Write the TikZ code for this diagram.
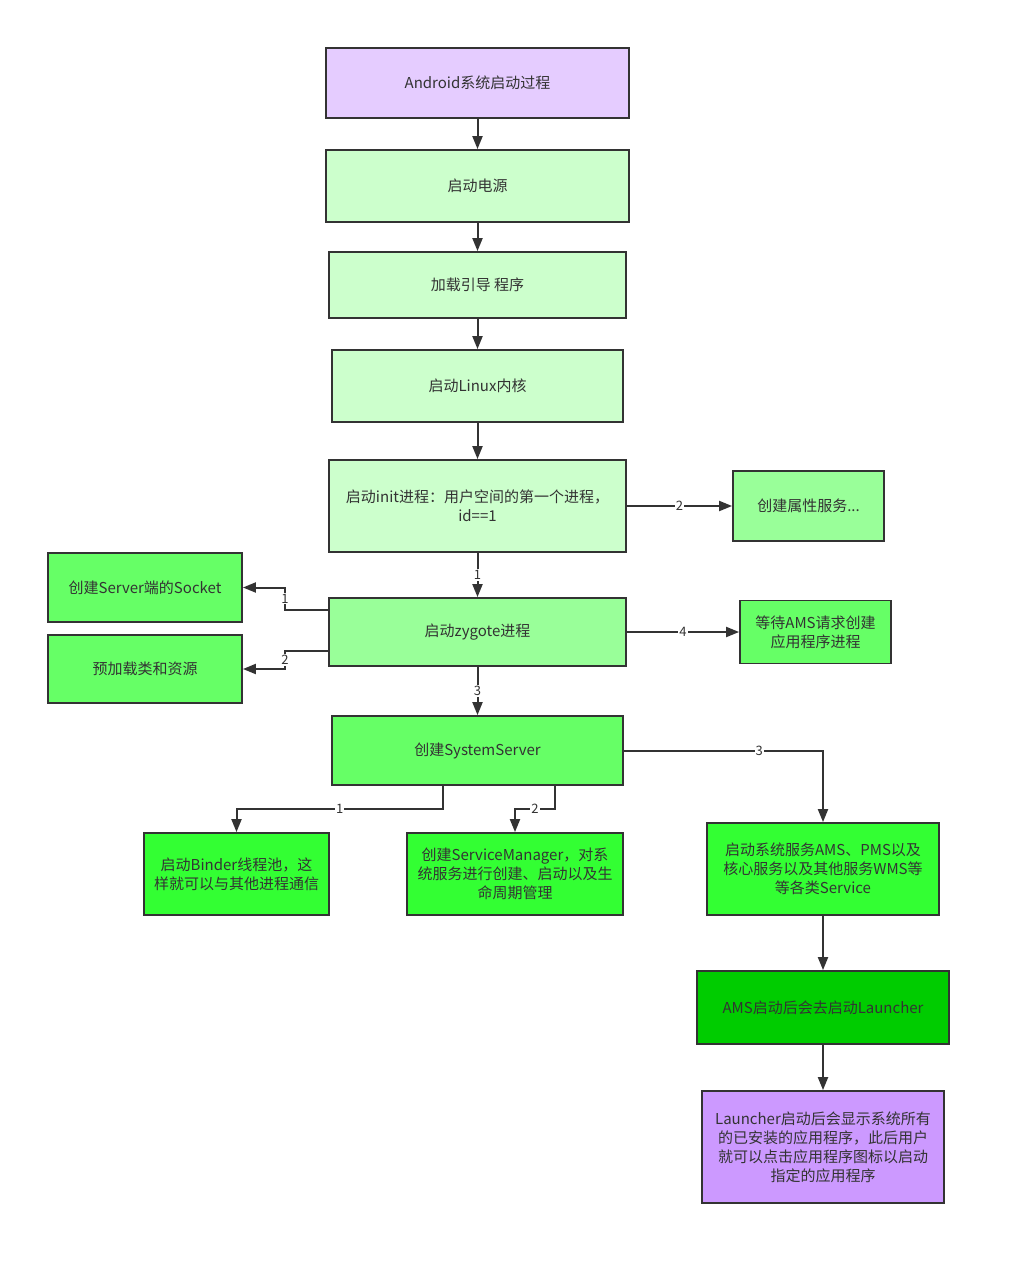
\documentclass[tikz,border=0pt]{standalone}
\usepackage{fontspec}
\setmainfont{Noto Sans CJK SC}
\usetikzlibrary{arrows.meta}
\definecolor{ink}{HTML}{333333}
\definecolor{lilac}{HTML}{E5CCFF}
\definecolor{paleg}{HTML}{CCFFCC}
\definecolor{lightg}{HTML}{99FF99}
\definecolor{midg}{HTML}{66FF66}
\definecolor{brightg}{HTML}{33FF33}
\definecolor{darkg}{HTML}{00CC00}
\definecolor{violet}{HTML}{CC99FF}
\begin{document}
\begin{tikzpicture}[x=1pt,y=-1pt,
	box/.style n args={3}{draw=ink,line width=1.8pt,text=ink,align=center,inner sep=0pt,font=\fontsize{15}{19}\selectfont,minimum width=#1,minimum height=#2,fill=#3},
	link/.style={draw=ink,line width=2pt,-{Triangle[length=13pt,width=10pt]}},
	num/.style={fill=white,text=ink,inner sep=1pt,font=\fontsize{13}{13}\selectfont}]
				\useasboundingbox (0,0) rectangle (1011,1265);
				\path (477.5,83) node[box={303}{70}{lilac}] (start) {Android系统启动过程}
				(477.5,186) node[box={303}{72}{paleg}] (power) {启动电源}
				(477.5,285) node[box={297}{66}{paleg}] (boot) {加载引导 程序}
				(477.5,386) node[box={291}{72}{paleg}] (kernel) {启动Linux内核}
				(477.5,506) node[box={297}{92}{paleg}] (init) {启动init进程：用户空间的第一个进程，\\id==1}
				(808.5,506) node[box={151}{70}{lightg}] (prop) {创建属性服务...}
				(477.5,632) node[box={297}{68}{lightg}] (zygote) {启动zygote进程}
				(815.5,632) node[box={151}{63}{midg}] (wait) {等待AMS请求创建\\应用程序进程}
				(145,587.5) node[box={194}{69}{midg}] (socket) {创建Server端的Socket}
				(145,669) node[box={194}{68}{midg}] (preload) {预加载类和资源}
				(477.5,750.5) node[box={291}{69}{midg}] (sysserver) {创建SystemServer}
				(236.5,874) node[box={185}{82}{brightg}] (binder) {启动Binder线程池，这\\样就可以与其他进程通信}
				(515,874) node[box={216}{82}{brightg}] (svcmgr) {创建ServiceManager，对系\\统服务进行创建、启动以及生\\命周期管理}
				(823,869) node[box={232}{92}{brightg}] (services) {启动系统服务AMS、PMS以及\\核心服务以及其他服务WMS等\\等各类Service}
				(823,1007.5) node[box={252}{73}{darkg}] (ams) {AMS启动后会去启动Launcher}
				(823,1147) node[box={242}{112}{violet}] (launcher) {Launcher启动后会显示系统所有\\的已安装的应用程序，此后用户\\就可以点击应用程序图标以启动\\指定的应用程序}
				;
				\draw[link] (start) -- (power);
				\draw[link] (power) -- (boot);
				\draw[link] (boot) -- (kernel);
				\draw[link] (kernel) -- (init);
				\draw[link] (init) -- node[num] {1} (zygote);
				\draw[link] (init) -- node[num] {2} (prop);
				\draw[link] ([yshift=22pt]zygote.west) -- ++(-43,0) |- node[num,pos=0.25] {1} (socket);
				\draw[link] ([yshift=-19pt]zygote.west) -- ++(-43,0) |- node[num,pos=0.25] {2} (preload);
				\draw[link] (zygote) -- node[num] {3} (sysserver);
				\draw[link] (zygote) -- node[num] {4} (wait);
				\draw[link] ([xshift=-34.5pt]sysserver.south) -- ++(0,23) -| node[num,pos=0.25] {1} (binder);
				\draw[link] ([xshift=77.5pt]sysserver.south) -- ++(0,23) -| node[num,pos=0.25] {2} (svcmgr);
				\draw[link] (sysserver) -| node[num,pos=0.34] {3} (services);
				\draw[link] (services) -- (ams);
				\draw[link] (ams) -- (launcher);
			\end{tikzpicture}
\end{document}
